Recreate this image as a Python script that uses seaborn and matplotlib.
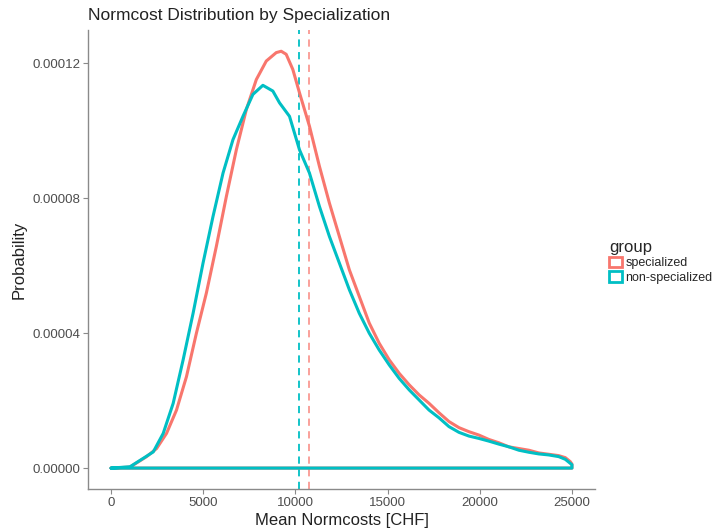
import numpy as np
import pandas as pd
import matplotlib
matplotlib.use("Agg")
import matplotlib.pyplot as plt
from matplotlib.patches import Patch
import seaborn as sns

# ---- data ----
groups = ["specialized", "non-specialized"]
colors = ["#F8766D", "#00BFC4"]

spec_x = [0, 1027, 1928, 2470, 3010, 3550, 4090, 4630, 5170, 5710, 6257, 6797, 7338,
          7879, 8420, 8961, 9230, 9500, 9860, 10220, 10761, 11302, 11843, 12384, 12925,
          13465, 14006, 14547, 15088, 15629, 16170, 16710, 17250, 17790, 18330, 18870,
          19410, 19950, 20490, 21040, 21580, 22120, 22660, 23200, 23740, 24280, 24640,
          24910, 25000, 25000, 0]
spec_y = [0.0, 0.3, 3.4, 5.8, 10.3, 17.2, 27.1, 40.0, 51.9, 65.7, 80.6, 94.4, 106.3,
          115.2, 120.7, 123.2, 123.6, 122.7, 118.2, 111.3, 101.4, 89.5, 78.6, 68.7, 58.8,
          50.9, 43.0, 37.0, 32.1, 28.1, 24.7, 21.7, 19.2, 16.4, 13.8, 12.0,
          10.8, 9.8, 8.5, 7.5, 6.3, 5.8, 5.3, 4.5, 4.1, 3.7, 3.1,
          1.9, 1.2, 0.0, 0.0]

nonspec_x = [0, 1027, 1748, 2290, 2830, 3370, 3910, 4450, 4990, 5530, 6075, 6614, 7155,
             7695, 8236, 8777, 9139, 9680, 10220, 10761, 11302, 11843, 12384, 12925,
             13465, 14006, 14547, 15088, 15629, 16170, 16710, 17250, 17790, 18330, 18870,
             19410, 19950, 20490, 21040, 21580, 22120, 22660, 23200, 23740, 24280, 24640,
             24910, 25000, 25000, 0]
nonspec_y = [0.0, 0.4, 2.9, 4.8, 10.3, 19.2, 32.1, 45.9, 60.8, 74.6, 87.5, 97.4, 104.3,
             110.8, 113.5, 111.8, 108.3, 104.3, 94.4, 87.5, 77.6, 68.7, 60.8, 52.9,
             45.9, 40.0, 35.0, 30.6, 26.6, 23.2, 20.2, 17.2, 14.9, 12.3, 10.6,
             9.5, 8.8, 8.0, 7.1, 6.3, 5.3, 4.7, 4.2, 3.9, 3.4, 2.6,
             1.4, 1.0, 0.0, 0.0]

means = [10760, 10220]  # dashed vertical lines (specialized, non-specialized)

x_ticks = [0, 5000, 10000, 15000, 20000, 25000]
y_ticks = [0.0, 0.00004, 0.00008, 0.00012]
y_tick_labels = ["0.00000", "0.00004", "0.00008", "0.00012"]

df = pd.concat([
    pd.DataFrame({"x": spec_x, "y": np.array(spec_y) * 1e-6, "group": groups[0]}),
    pd.DataFrame({"x": nonspec_x, "y": np.array(nonspec_y) * 1e-6, "group": groups[1]}),
], ignore_index=True)

# ---- plot ----
sns.set_theme(style="white")
plt.rcParams["font.family"] = ["Liberation Sans", "DejaVu Sans"]

fig = plt.figure(figsize=(7.12, 5.31), dpi=100)
ax = fig.add_axes([88 / 712, 1 - 489 / 531, (595 - 88) / 712, (489 - 30) / 531])

sns.lineplot(data=df, x="x", y="y", hue="group", hue_order=groups,
             palette=colors, sort=False, estimator=None, linewidth=2.2,
             legend=False, ax=ax, solid_joinstyle="round", solid_capstyle="round")

ax.axvline(means[0], color=colors[0], linestyle=(0, (4, 3)), linewidth=1.3, alpha=0.75, zorder=1)
ax.axvline(means[1], color=colors[1], linestyle=(0, (4, 3)), linewidth=1.3, zorder=1)

ax.set_xlim(-1250, 26250)
ax.set_ylim(-6.2e-6, 1.299e-4)
ax.set_xticks(x_ticks)
ax.set_xticklabels([str(v) for v in x_ticks])
ax.set_yticks(y_ticks)
ax.set_yticklabels(y_tick_labels)

for s in ["top", "right"]:
    ax.spines[s].set_visible(False)
for s in ["left", "bottom"]:
    ax.spines[s].set_color("#8a8a8a")
    ax.spines[s].set_linewidth(1.0)
ax.tick_params(axis="both", which="major", length=3.5, width=0.8, color="#8a8a8a",
               labelsize=9.5, labelcolor="#4d4d4d", pad=2, left=True, bottom=True)

ax.set_xlabel("Mean Normcosts [CHF]", fontsize=12, color="#222222", labelpad=3)
ax.set_ylabel("Probability", fontsize=12, color="#222222", labelpad=4)
ax.set_title("Normcost Distribution by Specialization", fontsize=12.5, color="#222222",
             loc="left", pad=7)

handles = [Patch(facecolor="white", edgecolor=c, linewidth=2, label=g)
           for g, c in zip(groups, colors)]
leg = fig.legend(handles=handles, title="group", loc="upper left",
                 bbox_to_anchor=(604 / 712, 1 - 235 / 531), frameon=False,
                 fontsize=9, title_fontsize=12, handlelength=1.0, handleheight=0.9,
                 handletextpad=0.3, labelspacing=0.15, borderaxespad=0,
                 alignment="left")

fig.savefig("out.png", dpi=100)
